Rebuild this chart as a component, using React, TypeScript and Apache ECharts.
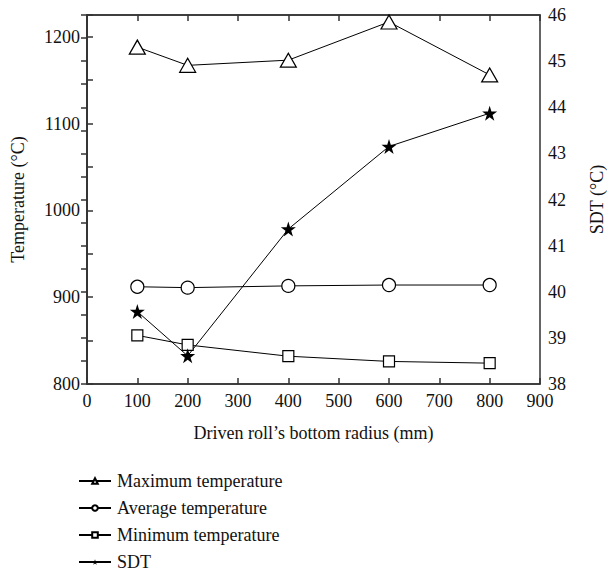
import React, { useEffect, useRef } from "react";
import * as echarts from "echarts";

const radii = [100, 200, 400, 600, 800];
const maxTemp = [1188, 1167, 1173, 1217, 1156];
const avgTemp = [912, 911, 913, 914, 914];
const minTemp = [856, 845, 832, 826, 824];
const sdt = [39.57, 38.61, 41.36, 43.15, 43.87];

const seriesNames = ["Maximum temperature", "Average temperature", "Minimum temperature", "SDT"];

const FONT = "'Liberation Serif', 'Times New Roman', serif";
const STAR = "path://M50,0 L61.2,34.5 L97.6,34.5 L68.2,55.9 L79.4,90.5 L50,69.1 L20.6,90.5 L31.8,55.9 L2.4,34.5 L38.8,34.5 Z";

export default function App() {
  const ref = useRef<HTMLDivElement>(null);
  useEffect(() => {
    if (!ref.current) return;
    const chart = echarts.init(ref.current, null, { renderer: "svg" });
    const pair = (ys: number[]) => radii.map((x, i) => [x, ys[i]]);
    const axisLine = { show: true, lineStyle: { color: "#333", width: 1.5 } };
    const axisTick = { show: true, inside: true, length: 6, lineStyle: { color: "#333", width: 1.5 } };
    const label = { fontFamily: FONT, fontSize: 18, color: "#111" };
    const markerStyle = { color: "#fff", borderColor: "#000", borderWidth: 1.2 };
    const lineStyle = { color: "#000", width: 1 };
    chart.setOption({
      animation: false,
      backgroundColor: "#fff",
      textStyle: { fontFamily: FONT },
      grid: {
        left: 87, right: 67, top: 15, bottom: 189,
        outerBoundsMode: "none",
        containLabel: false,
        show: true, borderColor: "#333", borderWidth: 1.5, backgroundColor: "transparent",
      },
      legend: {
        orient: "vertical",
        left: 73,
        top: 467,
        height: 110,
        itemWidth: 32,
        itemHeight: 7,
        itemGap: 9,
        data: seriesNames,
        textStyle: { fontFamily: FONT, fontSize: 18, color: "#111", padding: [0, 0, 0, 1] },
      },
      xAxis: [
        {
          type: "value",
          min: 0,
          max: 900,
          interval: 100,
          position: "bottom",
          axisLine,
          axisTick,
          axisLabel: { ...label, margin: 8 },
          splitLine: { show: false },
          name: "Driven roll\u2019s bottom radius (mm)",
          nameLocation: "middle",
          nameGap: 40,
          nameTextStyle: { ...label },
        },
        {
          type: "value",
          min: 0,
          max: 900,
          interval: 100,
          position: "top",
          axisLine,
          axisTick,
          axisLabel: { show: false },
          splitLine: { show: false },
        },
      ],
      yAxis: [
        {
          type: "value",
          min: 800,
          max: 1225,
          interval: 50,
          position: "left",
          axisLine,
          axisTick,
          axisLabel: { ...label, margin: 7, formatter: (v: number) => (v % 100 === 0 ? String(v) : "") },
          splitLine: { show: false },
          name: "Temperature (\u00B0C)",
          nameLocation: "middle",
          nameRotate: 90,
          nameGap: 60,
          nameTextStyle: { ...label },
        },
        {
          type: "value",
          min: 38,
          max: 46,
          interval: 0.5,
          position: "right",
          axisLine,
          axisTick,
          axisLabel: { ...label, margin: 8, formatter: (v: number) => (Number.isInteger(v) ? String(v) : "") },
          splitLine: { show: false },
          name: "SDT (\u00B0C)",
          nameLocation: "middle",
          nameRotate: 90,
          nameGap: 48,
          nameTextStyle: { ...label },
        },
      ],
      series: [
        {
          name: seriesNames[0],
          type: "line",
          xAxisIndex: 0,
          yAxisIndex: 0,
          data: pair(maxTemp),
          symbol: "triangle",
          symbolSize: [16, 14],
          lineStyle,
          itemStyle: markerStyle,
        },
        {
          name: seriesNames[1],
          type: "line",
          xAxisIndex: 0,
          yAxisIndex: 0,
          data: pair(avgTemp),
          symbol: "circle",
          symbolSize: 13,
          lineStyle,
          itemStyle: markerStyle,
        },
        {
          name: seriesNames[2],
          type: "line",
          xAxisIndex: 0,
          yAxisIndex: 0,
          data: pair(minTemp),
          symbol: "rect",
          symbolSize: 11,
          lineStyle,
          itemStyle: markerStyle,
        },
        {
          name: seriesNames[3],
          type: "line",
          xAxisIndex: 0,
          yAxisIndex: 1,
          data: pair(sdt),
          symbol: STAR,
          symbolSize: 15,
          lineStyle,
          itemStyle: { color: "#000", borderColor: "#000", borderWidth: 0 },
          z: 3,
        },
      ],
    });
    return () => chart.dispose();
  }, []);
  return <div ref={ref} style={{ width: 607, height: 573, position: "absolute", left: 0, top: 0 }} />;
}
